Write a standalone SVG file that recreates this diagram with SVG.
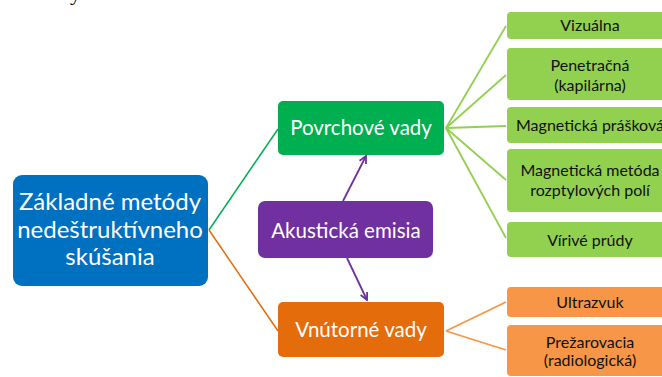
<svg xmlns="http://www.w3.org/2000/svg" width="662" height="377" viewBox="0 0 662 377">
<style>
text{font-family:Lato,"Open Sans","Liberation Sans",sans-serif;text-anchor:middle}
.w{fill:#ffffff}
.k{fill:#111111;font-size:16px}
.big{font-size:24px}
.mid{font-size:20.5px}
.cg{stroke:#00b050;stroke-width:1.5;fill:none}
.co{stroke:#e46c0a;stroke-width:1.5;fill:none}
.cl{stroke:#92d050;stroke-width:1.8;fill:none}
.clo{stroke:#f79646;stroke-width:1.8;fill:none}
.cp{stroke:#7030a0;stroke-width:1.8;fill:none}
</style>
<defs>
<marker id="ah" viewBox="0 0 10 10" refX="9" refY="5" markerWidth="5" markerHeight="5" orient="auto" markerUnits="strokeWidth">
<path d="M1,1 L9,5 L1,9" fill="none" stroke="#7030a0" stroke-width="2"/>
</marker>
</defs>
<text x="70" y="0" style="font-family:'Liberation Serif',serif;font-size:22px;text-anchor:start;fill:#000">y</text>
<g id="connectors">
<path class="cg" d="M209,230 L278,129"/>
<path class="co" d="M209,230 L278,331"/>
<path class="cl" d="M446,128 L506,26"/>
<path class="cl" d="M446,128 L506,75"/>
<path class="cl" d="M446,128 L506,126"/>
<path class="cl" d="M446,128 L506,180"/>
<path class="cl" d="M446,128 L506,238"/>
<path class="clo" d="M446,331 L506,302"/>
<path class="clo" d="M446,331 L506,350"/>
<path class="cp" d="M343,201 L366,156" marker-end="url(#ah)"/>
<path class="cp" d="M347,258 L367,300" marker-end="url(#ah)"/>
</g>
<g id="root">
<rect x="13" y="175" width="195" height="111" rx="9" fill="#0070c0"/>
<text class="w big" x="110" y="210">Základné metódy</text>
<text class="w big" x="110" y="238">nedeštruktívneho</text>
<text class="w big" x="110" y="265">skúšania</text>
</g>
<g id="povrchove">
<rect x="278" y="101" width="166" height="54" rx="5" fill="#00b050"/>
<text class="w mid" x="361" y="135">Povrchové vady</text>
</g>
<g id="akusticka">
<rect x="258" y="201" width="175" height="57" rx="7" fill="#7030a0"/>
<text class="w mid" x="346" y="238">Akustická emisia</text>
</g>
<g id="vnutorne">
<rect x="278" y="302" width="166" height="55" rx="5" fill="#e46c0a"/>
<text class="w mid" x="361" y="337">Vnútorné vady</text>
</g>
<g id="vizualna">
<rect x="507" y="12" width="166" height="27" rx="4" fill="#92d050"/>
<text class="k" x="590" y="31">Vizuálna</text>
</g>
<g id="penetracna">
<rect x="507" y="48" width="166" height="52" rx="4" fill="#92d050"/>
<text class="k" x="590" y="71">Penetračná</text>
<text class="k" x="590" y="91">(kapilárna)</text>
</g>
<g id="mag-praskova">
<rect x="507" y="107" width="166" height="36" rx="4" fill="#92d050"/>
<text class="k" x="590" y="131">Magnetická prášková</text>
</g>
<g id="mag-metoda">
<rect x="507" y="149" width="166" height="63" rx="4" fill="#92d050"/>
<text class="k" x="590" y="176">Magnetická metóda</text>
<text class="k" x="590" y="196">rozptylových polí</text>
</g>
<g id="virive">
<rect x="507" y="222" width="166" height="35" rx="4" fill="#92d050"/>
<text class="k" x="590" y="246">Vírivé prúdy</text>
</g>
<g id="ultrazvuk">
<rect x="507" y="287" width="166" height="30" rx="4" fill="#f79646"/>
<text class="k" x="590" y="308">Ultrazvuk</text>
</g>
<g id="prezarovacia">
<rect x="507" y="325" width="166" height="51" rx="4" fill="#f79646"/>
<text class="k" x="590" y="348">Prežarovacia</text>
<text class="k" x="590" y="366">(radiologická)</text>
</g>
</svg>
